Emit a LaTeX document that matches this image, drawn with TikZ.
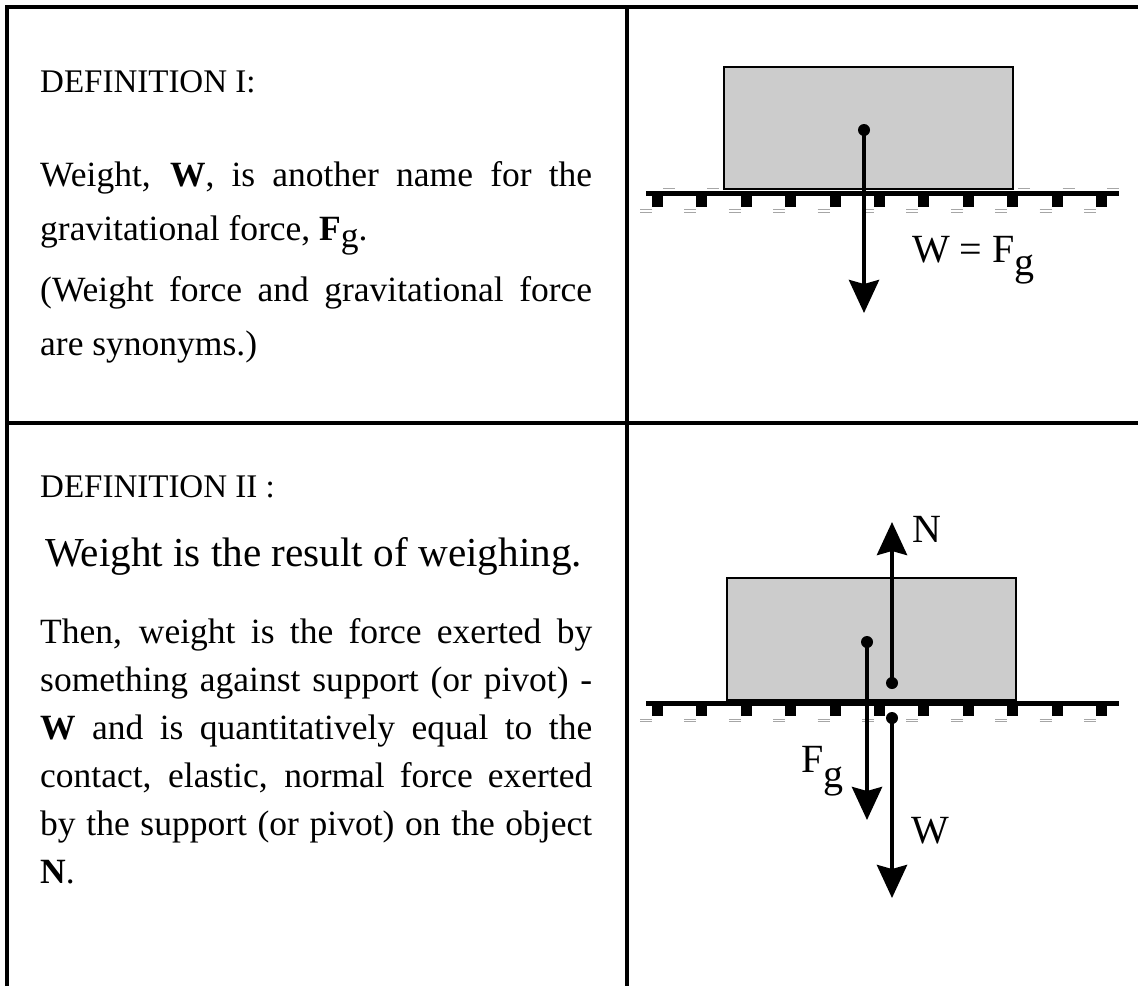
\documentclass[tikz,border=0pt]{standalone}
\usepackage{fontspec}
\setmainfont{Liberation Serif}
\usetikzlibrary{arrows.meta}
\tikzset{
  frameline/.style={line width=4pt},
  body/.style={anchor=base west, inner sep=0pt, font=\fontsize{35.5}{40}\selectfont},
  defhead/.style={anchor=base west, inner sep=0pt, font=\fontsize{33}{40}\selectfont},
  headline/.style={anchor=base west, inner sep=0pt, font=\fontsize{41.2}{48}\selectfont},
  blockbox/.style={fill=gray!40, draw=black, line width=1.5pt},
  groundline/.style={line width=5pt},
  grayline/.style={draw=gray!70, line width=0.8pt},
  force/.style={line width=4.2pt, -{Stealth[length=33pt,width=30pt,inset=4pt]}},
  dotnode/.style={circle, fill=black, inner sep=0pt, minimum size=12pt},
  lab/.style={anchor=base west, inner sep=0pt, font=\fontsize{40}{42}\selectfont},
}
\begin{document}
\begin{tikzpicture}[x=1pt,y=-1pt]
\useasboundingbox (0,0) rectangle (1138,986);
% frame
\draw[frameline] (7,986) -- (7,7) -- (1138,7);
\draw[frameline] (627,7) -- (627,986);
\draw[frameline] (7,423) -- (1138,423);

% left texts
\node[defhead] (t1) at (40,92) {DEFINITION I:};
\node[body] (t2) at (40,186) {\makebox[552pt][s]{Weight, \textbf{W}, is another name for the}};
\node[body] (t3) at (40,240) {gravitational force, \textbf{F}\raisebox{-0.22em}{g}.};
\node[body] (t4) at (40,301) {\makebox[552pt][s]{(Weight force and gravitational force}};
\node[body] (t5) at (40,355) {are synonyms.)};
\node[defhead] (t6) at (40,497) {DEFINITION II :};
\node[headline] (t7) at (45,566) {Weight is the result of weighing.};
\node[body] (t8) at (40,643) {\makebox[552pt][s]{Then, weight is the force exerted by}};
\node[body] (t9) at (40,691) {\makebox[552pt][s]{something against support (or pivot) -}};
\node[body] (t10) at (40,739) {\makebox[552pt][s]{\textbf{W} and is quantitatively equal to the}};
\node[body] (t11) at (40,787) {\makebox[552pt][s]{contact, elastic, normal force exerted}};
\node[body] (t12) at (40,835) {\makebox[552pt][s]{by the support (or pivot) on the object}};
\node[body] (t13) at (40,883) {\textbf{N}.};

% ===== top figure =====
\foreach \i in {0,...,10} {
  \draw[grayline] (663+44.4*\i,188) -- ++(12,0);
  \draw[grayline] (640+44.4*\i,209.5) -- ++(12,0);
  \draw[grayline] (640+44.4*\i,212) -- ++(12,0);
}
\draw[blockbox] (724,67) rectangle (1013,189);
\draw[groundline] (646,193) -- (1119,193);
\foreach \i in {0,...,10} {
  \fill (652+44.4*\i,196) rectangle ++(11,11);
}
\node[dotnode] (d1) at (864,130) {};
\coordinate (tip1) at (864,313);
\draw[force] (d1.center) -- (tip1);
\node[lab] (wfg) at (912,262) {W = F\raisebox{-0.33em}{g}};

% ===== bottom figure =====
\foreach \i in {0,...,10} {
  \draw[grayline] (640+44.4*\i,719) -- ++(12,0);
  \draw[grayline] (640+44.4*\i,721.5) -- ++(12,0);
}
\draw[blockbox] (727,578) rectangle (1016,700);
\draw[groundline] (646,703) -- (1119,703);
\foreach \i in {0,...,10} {
  \fill (652+44.4*\i,706) rectangle ++(11,10);
}
\node[dotnode] (dg) at (867,642) {};
\coordinate (tipg) at (867,820);
\draw[force] (dg.center) -- (tipg);
\node[dotnode] (dn) at (892,683) {};
\coordinate (tipn) at (892,522);
\draw[force] (dn.center) -- (tipn);
\node[dotnode] (dw) at (892,718) {};
\coordinate (tipw) at (892,898);
\draw[force] (dw.center) -- (tipw);
\node[lab] (ln) at (912,542) {N};
\node[lab] (lw) at (911,843) {W};
\node[lab] (lfg) at (801,772) {F\raisebox{-0.38em}{g}};
\end{tikzpicture}
\end{document}
